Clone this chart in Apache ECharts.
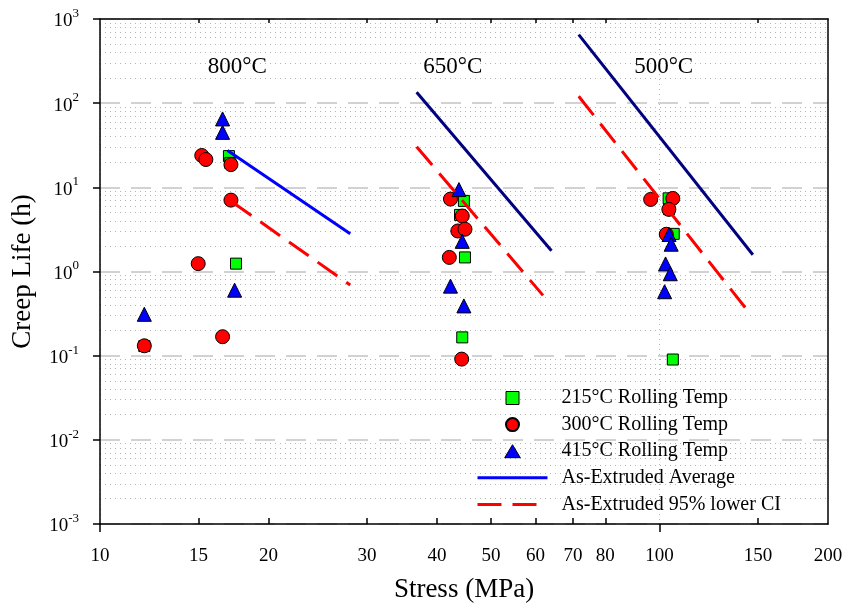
<!DOCTYPE html>
<html>
<head>
<meta charset="utf-8">
<script src="https://cdn.jsdelivr.net/npm/echarts/dist/echarts.min.js"></script>
<style>html,body{margin:0;padding:0;background:#fff;}</style>
</head>
<body>
<div id="chart" style="width:847px;height:608px;"></div>
<script>
// ---- tick values ----
const xLabelValues = [10, 15, 20, 30, 40, 50, 60, 70, 80, 100, 150, 200];
const xInnerTicks = [15, 20, 30, 40, 50, 60, 70, 80, 150];
const xOuterTicks = [10, 100];
const yDecades = [0.001, 0.01, 0.1, 1, 10, 100, 1000];
const yMinorMultipliers = [2, 3, 4, 5, 6, 7, 8, 9];

// ---- data: [stress MPa, creep life h] ----
const rolling215 = [
  [17.0, 23.5], [17.1, 19.5], [17.5, 1.24], [12.0, 0.13],
  [44.7, 6.9], [44.0, 4.7], [44.9, 1.47], [44.4, 0.165],
  [103.8, 7.4], [104.0, 5.5], [106.0, 2.8], [105.6, 0.09]
];
const rolling300 = [
  [15.2, 23.9], [15.46, 21.4], [17.14, 18.6], [17.14, 7.05], [14.98, 1.24], [12.0, 0.131], [16.56, 0.168],
  [42.3, 7.25], [44.4, 4.56], [43.6, 3.03], [44.9, 3.18], [42.1, 1.47], [44.3, 0.091],
  [96.4, 7.18], [105.6, 7.38], [103.9, 5.47], [102.8, 2.77]
];
const rolling415 = [
  [16.56, 65], [16.56, 45], [17.4, 0.6], [12.0, 0.31],
  [43.8, 9.4], [44.4, 2.28], [42.3, 0.67], [44.7, 0.39],
  [104.0, 2.75], [104.9, 2.11], [102.5, 1.23], [104.5, 0.94], [102.1, 0.575]
];
const avg800 = [[16.9, 27.4], [28.0, 2.80]];
const avg650 = [[36.8, 135], [64.1, 1.76]];
const avg500 = [[71.7, 651], [146.8, 1.58]];
const ci800 = [[17.2, 6.75], [28.0, 0.69]];
const ci650 = [[36.8, 30.3], [61.9, 0.52]];
const ci500 = [[71.7, 121], [146.1, 0.297]];
const tempLabels = [
  {name: '800°C', value: [17.6, 266]},
  {name: '650°C', value: [42.7, 266]},
  {name: '500°C', value: [101.7, 266]}
];

const yMinor = [];
yDecades.slice(0, -1).forEach(d => yMinorMultipliers.forEach(m => yMinor.push(+(d * m).toPrecision(3))));

const FONT = "'Liberation Serif', 'Times New Roman', serif";
const names = ['215°C Rolling Temp', '300°C Rolling Temp', '415°C Rolling Temp', 'As-Extruded Average', 'As-Extruded 95% lower CI'];

const baseLog = {type: 'log', logBase: 10, min: 10, max: 200, gridIndex: 0};
const baseLogY = {type: 'log', logBase: 10, min: 0.001, max: 1000, gridIndex: 0};

const chart = echarts.init(document.getElementById('chart'));
const dashStyle = {color: '#ff0000', width: 3, type: [24, 11], cap: 'butt'};
const hiddenSym = {color: 'rgba(0,0,0,0)', borderColor: 'rgba(0,0,0,0)', borderWidth: 0};

chart.setOption({
  animation: false,
  backgroundColor: '#fff',
  textStyle: {fontFamily: FONT, color: '#000'},
  grid: {left: 100, right: 19, top: 19, bottom: 80, containLabel: false},
  legend: {
    orient: 'vertical', left: 476, top: 388, padding: 0,
    itemWidth: 70, itemHeight: 13, itemGap: 6.6,
    symbolKeepAspect: true,
    textStyle: {fontSize: 20, fontFamily: FONT, color: '#000', padding: [0, 0, 0, 9]},
    data: [
      {name: names[0], icon: 'path://M0,0L10,0L10,10L0,10Z', itemStyle: {borderColor: '#000', borderWidth: 1}},
      {name: names[1]},
      {name: names[2], icon: 'path://M6,0L12,10L0,10Z', itemStyle: {borderColor: '#000', borderWidth: 1}},
      {name: names[3], itemStyle: hiddenSym, lineStyle: {width: 3, color: '#0000ff'}},
      {name: names[4], itemStyle: hiddenSym, lineStyle: {width: 3, color: '#ff0000', type: [24, 11]}}
    ],
    selectedMode: false
  },
  xAxis: [
    Object.assign({}, baseLog, {
      position: 'bottom',
      name: 'Stress (MPa)', nameLocation: 'middle', nameGap: 52, nameMoveOverlap: false,
      nameTextStyle: {fontSize: 27, fontFamily: FONT, color: '#000'},
      axisLine: {show: true, lineStyle: {color: '#000', width: 1.5}},
      axisTick: {show: true, inside: true, length: 6, customValues: xInnerTicks, lineStyle: {color: '#000', width: 1.5}},
      axisLabel: {show: true, customValues: xLabelValues, fontSize: 19, fontFamily: FONT, color: '#000', margin: 23, formatter: v => String(v)},
      splitLine: {show: false}, minorTick: {show: false}, minorSplitLine: {show: false}
    }),
    Object.assign({}, baseLog, {
      position: 'bottom',
      axisLine: {show: false},
      axisTick: {show: true, inside: false, length: 8, customValues: xOuterTicks, lineStyle: {color: '#000', width: 1.5}},
      axisLabel: {show: false},
      splitLine: {show: true, lineStyle: {color: '#b4b4b4', width: 1, type: [1, 4]}}
    }),
    Object.assign({}, baseLog, {
      position: 'top',
      axisLine: {show: true, lineStyle: {color: '#000', width: 1.5}},
      axisTick: {show: true, inside: true, length: 4, customValues: xInnerTicks, lineStyle: {color: '#000', width: 1.5}},
      axisLabel: {show: false},
      splitLine: {show: false}
    })
  ],
  yAxis: [
    Object.assign({}, baseLogY, {
      position: 'left',
      name: 'Creep Life (h)', nameLocation: 'middle', nameGap: 64, nameRotate: 90, nameMoveOverlap: false,
      nameTextStyle: {fontSize: 27, fontFamily: FONT, color: '#000'},
      axisLine: {show: true, lineStyle: {color: '#000', width: 1.5}},
      axisTick: {show: true, inside: false, length: 7, customValues: yDecades, lineStyle: {color: '#000', width: 1.5}},
      axisLabel: {
        show: true, customValues: yDecades, margin: 21,
        formatter: v => '{b|10}{s|' + Math.round(Math.log10(v)) + '}',
        rich: {
          b: {fontSize: 19, fontFamily: FONT, color: '#000', lineHeight: 24, verticalAlign: 'bottom'},
          s: {fontSize: 13, fontFamily: FONT, color: '#000', lineHeight: 13, verticalAlign: 'top'}
        }
      },
      splitLine: {show: true, lineStyle: {color: '#c4c4c4', width: 1.5, type: [20, 11]}}
    }),
    Object.assign({}, baseLogY, {
      position: 'left',
      axisLine: {show: false},
      axisTick: {show: false, customValues: yMinor},
      axisLabel: {show: false},
      splitLine: {show: true, lineStyle: {color: '#b4b4b4', width: 1, type: [1, 4]}}
    }),
    Object.assign({}, baseLogY, {
      position: 'right',
      axisLine: {show: true, lineStyle: {color: '#000', width: 1.5}},
      axisTick: {show: false},
      axisLabel: {show: false},
      splitLine: {show: false}
    })
  ],
  series: [
    {name: names[0], type: 'scatter', data: rolling215, symbol: 'rect', symbolSize: 11,
     itemStyle: {color: '#00ff00', borderColor: '#000', borderWidth: 1, opacity: 1}},
    {name: names[1], type: 'scatter', data: rolling300, symbol: 'circle', symbolSize: 14,
     itemStyle: {color: '#ff0000', borderColor: '#000', borderWidth: 1, opacity: 1}},
    {name: names[2], type: 'scatter', data: rolling415, symbol: 'triangle', symbolSize: 14,
     itemStyle: {color: '#0000ff', borderColor: '#000', borderWidth: 1, opacity: 1}},
    {name: names[3], type: 'line', data: avg800, showSymbol: false, symbol: 'none',
     lineStyle: {color: '#0000ff', width: 3}, itemStyle: {color: '#0000ff'}},
    {name: 'avg650', type: 'line', data: avg650, showSymbol: false, symbol: 'none',
     lineStyle: {color: '#000080', width: 3}},
    {name: 'avg500', type: 'line', data: avg500, showSymbol: false, symbol: 'none',
     lineStyle: {color: '#000080', width: 3}},
    {name: names[4], type: 'line', data: ci800, showSymbol: false, symbol: 'none',
     lineStyle: dashStyle, itemStyle: {color: '#ff0000'}},
    {name: names[4], type: 'line', data: ci650, showSymbol: false, symbol: 'none',
     lineStyle: dashStyle, itemStyle: {color: '#ff0000'}},
    {name: names[4], type: 'line', data: ci500, showSymbol: false, symbol: 'none',
     lineStyle: dashStyle, itemStyle: {color: '#ff0000'}},
    {name: 'labels', type: 'scatter', data: tempLabels, symbolSize: 0, silent: true,
     itemStyle: {opacity: 1},
     label: {show: true, position: 'inside', formatter: '{b}', fontSize: 23, fontFamily: FONT, color: '#000', opacity: 1, textBorderWidth: 0}}
  ]
});
</script>
</body>
</html>
